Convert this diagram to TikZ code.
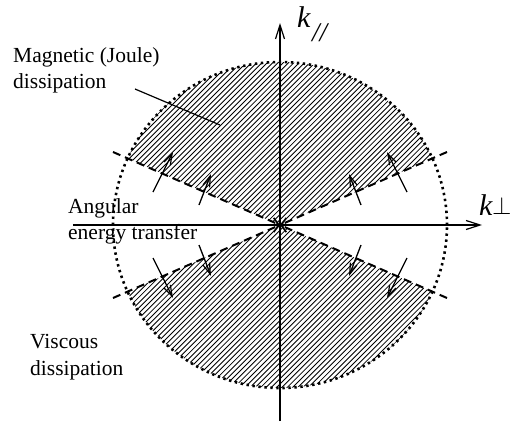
\documentclass[tikz,border=0pt]{standalone}
\usepackage{fontspec}
\setmainfont{Liberation Serif}
\usetikzlibrary{arrows.meta}
\begin{document}
\begin{tikzpicture}[x=1pt,y=1pt,
  lbl/.style={font=\fontsize{21.5}{25}\selectfont, inner sep=0pt, anchor=base west},
  klbl/.style={font=\fontsize{30}{30}\selectfont\itshape, inner sep=0pt, anchor=base west},
  axis/.style={line width=1.3pt, -{Straight Barb[length=14pt,width=9pt,line width=1.2pt]}},
  bound/.style={line width=2pt, dash pattern=on 8pt off 5pt, -{Straight Barb[length=7pt,width=8pt,line width=1.6pt]}},
  flux/.style={line width=1.3pt, -{Straight Barb[length=11pt,width=7pt,line width=1.2pt]}},
  hatch/.style={line width=0.85pt},
  circ/.style={line width=2.6pt, dash pattern=on 2.4pt off 3.6pt},
  pointer/.style={line width=1.2pt}]
\useasboundingbox (-280,-196) rectangle (231,225);
\coordinate (O) at (0,0);
% hatched sectors
\foreach \sgn in {1,-1}{
\begin{scope}
  \clip (0,0) ellipse [x radius=167, y radius=163];
  \clip (0,0) -- (400,{\sgn*175}) -- (400,{\sgn*300}) -- (-400,{\sgn*300}) -- (-400,{\sgn*175}) -- cycle;
  \foreach \i in {-80,...,80}
    \draw[hatch] ({\i*5.3-200},-200) -- ({\i*5.3+200},200);
\end{scope}
}
% dotted circle
\draw[circ] (0,0) ellipse [x radius=167, y radius=163];
% dashed boundaries
\coordinate (ul) at (-167,73);
\coordinate (ur) at (167,73);
\coordinate (ll) at (-167,-73);
\coordinate (lr) at (167,-73);
\foreach \c in {ul,ur,ll,lr}
  \draw[bound] (\c) -- (O);
% axes
\coordinate (xs) at (-207,0);
\coordinate (xe) at (202,0);
\coordinate (ys) at (0,-196);
\coordinate (ye) at (0,202);
\draw[axis] (xs) -- (xe);
\draw[axis] (ys) -- (ye);
% transfer arrows
\foreach \sx in {1,-1}{
  \foreach \sy in {1,-1}{
    \draw[flux] ({\sx*127},{\sy*33}) -- ({\sx*107},{\sy*73});
    \draw[flux] ({\sx*81},{\sy*20}) -- ({\sx*69},{\sy*51});
  }
}
% axis labels
\node[klbl] (kpar) at (17,197) {k};
\node[font=\fontsize{27}{28}\selectfont\itshape, inner sep=0pt, anchor=base west] (kparsub) at (32,184) {//};
\node[klbl] (kperp) at (199,10) {k};
\node[inner sep=0pt, anchor=base west, font=\fontsize{23}{25}\selectfont] (kperpsub) at (212,11) {$\perp$};
% text labels
\node[lbl] (mag1) at (-267,163) {Magnetic (Joule)};
\node[lbl] (mag2) at (-267,137) {dissipation};
\node[lbl] (ang1) at (-212,12) {Angular};
\node[lbl] (ang2) at (-212,-14) {energy transfer};
\node[lbl] (vis1) at (-250,-123) {Viscous};
\node[lbl] (vis2) at (-250,-150) {dissipation};
\coordinate (ps) at (-145,136);
\coordinate (pe) at (-60,100);
\draw[pointer] (ps) -- (pe);
\end{tikzpicture}
\end{document}
